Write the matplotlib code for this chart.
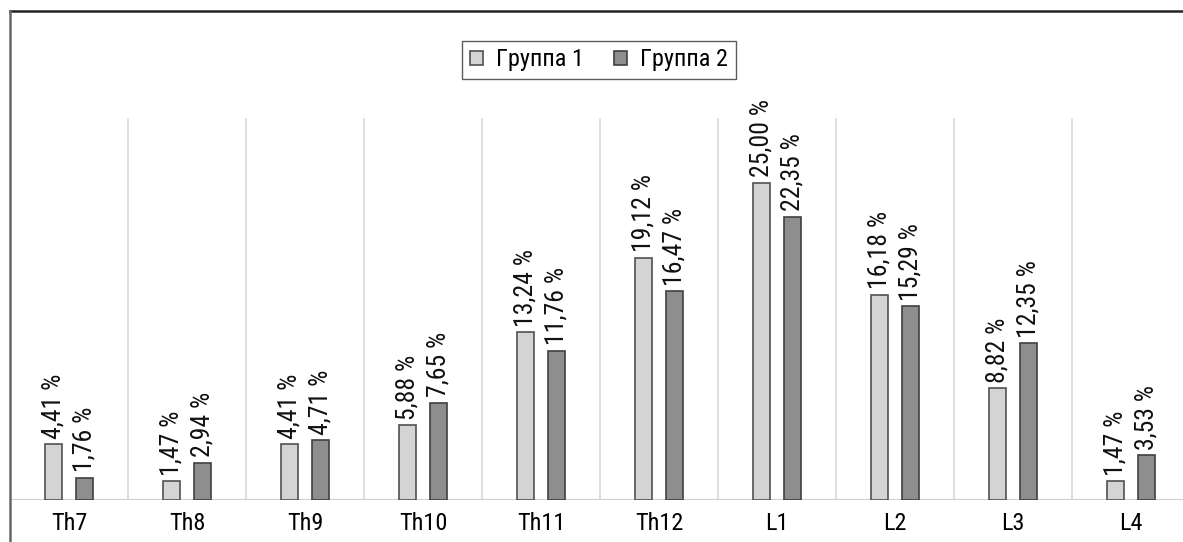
import matplotlib
matplotlib.use("Agg")
import matplotlib.pyplot as plt
from matplotlib.lines import Line2D
from matplotlib import font_manager
import numpy as np

categories = ["Th7", "Th8", "Th9", "Th10", "Th11", "Th12", "L1", "L2", "L3", "L4"]
group1 = [4.41, 1.47, 4.41, 5.88, 13.24, 19.12, 25.00, 16.18, 8.82, 1.47]
group2 = [1.76, 2.94, 4.71, 7.65, 11.76, 16.47, 22.35, 15.29, 12.35, 3.53]
series_names = ["Группа 1", "Группа 2"]

# condensed font if one exists, else Liberation Sans (narrower than DejaVu)
names = {f.name for f in font_manager.fontManager.ttflist}
fam = [n for n in ("Roboto Condensed", "Liberation Sans Narrow", "Arial Narrow", "Liberation Sans") if n in names]
plt.rcParams["font.family"] = fam + ["DejaVu Sans"]
FS = 17.5
FS_LBL = 18.5

W, H = 1183, 542
fig = plt.figure(figsize=(W / 100, H / 100), dpi=100)
ax = fig.add_axes([10 / W, 42 / H, 1180 / W, 489 / H])

x = np.arange(len(categories))
off, bw = 0.13, 0.145
b1 = ax.bar(x - off, group1, bw, color="#d4d4d4", edgecolor="#505050", linewidth=1.2, label=series_names[0], zorder=3)
b2 = ax.bar(x + off, group2, bw, color="#8e8e8e", edgecolor="#404040", linewidth=1.2, label=series_names[1], zorder=3)

for bars, vals in ((b1, group1), (b2, group2)):
    for r, v in zip(bars, vals):
        ax.annotate(f"{v:.2f} %".replace(".", ","), (r.get_x() + r.get_width() / 2, v),
                    xytext=(0, 4), textcoords="offset points", rotation=90,
                    ha="center", va="bottom", fontsize=FS_LBL, color="#111111")

ax.vlines(np.arange(0.5, len(categories) - 0.5), 0, 30.1, color="#d9d9d9", linewidth=1.2, zorder=1)
ax.axhline(0, color="#d0d0d0", linewidth=1.5, zorder=2)

ax.set_xlim(-0.5, len(categories) - 0.5)
ax.set_ylim(0, 489 / 12.68)
ax.set_xticks(x)
ax.set_xticklabels(categories, fontsize=FS)
ax.tick_params(axis="x", length=0, pad=9)
ax.set_yticks([])
for s in ax.spines.values():
    s.set_visible(False)

leg = ax.legend(loc="center", bbox_to_anchor=(589 / 1180, 1 - 49 / 489), ncol=2, fontsize=FS,
                frameon=True, fancybox=False, edgecolor="#333333", handlelength=0.55,
                handleheight=0.55, handletextpad=0.55, columnspacing=1.2, borderpad=0.3)
leg.get_frame().set_linewidth(1.0)

fig.add_artist(Line2D([10 / W, 1], [1 - 11 / H, 1 - 11 / H], color="#222222", linewidth=1.8))
fig.add_artist(Line2D([10 / W, 10 / W], [0, 1 - 11 / H], color="#666666", linewidth=1.8))

fig.savefig("out.png", dpi=100)
